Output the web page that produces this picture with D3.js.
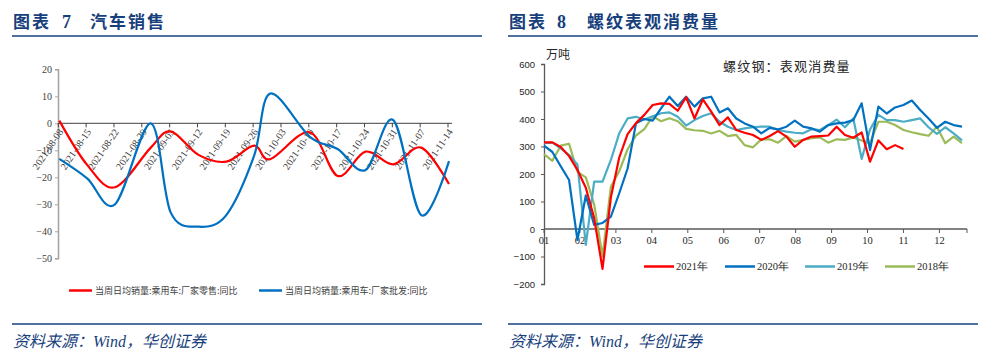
<!DOCTYPE html>
<html><head><meta charset="utf-8">
<script src="https://cdn.jsdelivr.net/npm/d3@7"></script>
<style>body{margin:0;background:#fff}svg{display:block}</style>
</head><body><svg id="c" width="990" height="358"></svg>
<script>
// ---------- Data: chart 7 (car sales) ----------
const carDates = ["2021-08-08","2021-08-15","2021-08-22","2021-08-31","2021-09-05","2021-09-12","2021-09-19","2021-09-26","2021-09-30","2021-10-10","2021-10-17","2021-10-24","2021-10-31","2021-11-07","2021-11-14"];
const retailYoY = [1,-15.4,-23.7,-9,-3,-11.7,-14.2,-8.3,-13.3,-3.3,-19.5,-10.5,-15.2,-9,-22.5];
const wholesaleYoY = [-13.2,-20.4,-30,0,-33,-38.3,-34,-12,11,-5,-9.5,-17.3,1.2,-34,-14];
const carYTicks = [20,10,0,-10,-20,-30,-40,-50];
const carSeriesNames = ["当周日均销量:乘用车:厂家零售:同比","当周日均销量:乘用车:厂家批发:同比"];

// ---------- Data: chart 8 (rebar apparent consumption, weekly) ----------
const rebar2021 = [315,315,298,265,215,150,40,-145,115,260,345,385,415,451,457,455,430,479,402,471,427,378,406,360,350,342,324,338,356,336,299,324,336,338,340,372,342,332,351,245,322,290,305,291];
const rebar2020 = [303,280,228,178,-40,122,15,22,45,130,220,384,400,394,439,481,447,481,445,475,481,424,439,402,384,372,348,368,362,372,394,372,366,354,378,384,387,396,457,287,445,420,442,451,467,433,402,368,390,378,372];
const rebar2019 = [312,314,293,269,235,-58,172,172,251,348,402,408,398,410,421,424,408,376,396,411,421,390,372,360,366,370,372,372,360,354,350,348,363,360,378,398,370,402,255,362,415,396,396,390,396,402,370,346,370,348,322];
const rebar2018 = [272,248,303,310,208,188,90,-100,154,210,290,340,363,410,392,403,392,364,359,357,347,357,338,342,305,297,326,326,314,338,318,324,330,333,314,326,324,333,322,312,390,390,378,360,352,345,339,372,312,336,312];
const monthLabels = ["01","02","03","04","05","06","07","08","09","10","11","12"];
const rebarYTicks = [600,500,400,300,200,100,0,-100,-200];
const rebarSeriesNames = ["2021年","2020年","2019年","2018年"];

// ---------- Styles ----------
const NAVY = "#173f7c";
const CJK = "'Noto Sans CJK SC','Noto Sans',sans-serif";
const SERIF = "'Liberation Serif','Times New Roman',serif";
const SANS = "'Liberation Sans',Arial,sans-serif";

const svg = d3.select("#c");
svg.append("rect").attr("width",990).attr("height",358).attr("fill","#fff");

// ---------- Headers / footers ----------
function header(x0, num, title, x1, x2, lineEnd) {
  const g = svg.append("g");
  g.append("text").attr("x",x0).attr("y",28).attr("font-family",CJK).attr("font-weight",700)
    .attr("font-size",17).attr("letter-spacing",2).attr("fill",NAVY).text("图表");
  g.append("text").attr("x",x1).attr("y",28).attr("font-family",SERIF).attr("font-weight",700)
    .attr("font-size",18).attr("fill",NAVY).text(num);
  g.append("text").attr("x",x2).attr("y",28).attr("font-family",CJK).attr("font-weight",700)
    .attr("font-size",17).attr("letter-spacing",2).attr("fill",NAVY).text(title);
  g.append("line").attr("x1",x0-1).attr("x2",lineEnd).attr("y1",36).attr("y2",36)
    .attr("stroke",NAVY).attr("stroke-width",1.6);
  g.append("line").attr("x1",x0-1).attr("x2",lineEnd).attr("y1",324).attr("y2",324)
    .attr("stroke",NAVY).attr("stroke-width",1.6);
  const t = g.append("text").attr("x",x0).attr("y",347).attr("font-size",16)
    .attr("font-style","italic").attr("fill",NAVY).attr("font-family",CJK);
  t.append("tspan").text("资料来源：");
  t.append("tspan").attr("font-family",SERIF).text("Wind");
  t.append("tspan").text("，华创证券");
}
header(13,"7","汽车销售",62,90,482);
header(509,"8","螺纹表观消费量",557,587,978);

// ---------- Chart 7 ----------
(function(){
  const parse = d3.timeParse("%Y-%m-%d");
  const dates = carDates.map(parse);
  const x = d3.scaleTime().domain([dates[0], dates[dates.length-1]]).range([59.3, 449]);
  const y = d3.scaleLinear().domain([-50, 20]).range([258.3, 69.3]);
  const g = svg.append("g");

  // y axis
  const ya = g.append("g").attr("transform","translate(58,0)")
    .call(d3.axisLeft(y).tickValues(carYTicks).tickSize(3).tickFormat(d3.format("d")));
  ya.select(".domain").attr("stroke","#a6a6a6").attr("stroke-width",1.6);
  ya.selectAll(".tick line").attr("stroke","#a6a6a6").attr("stroke-width",1);
  ya.selectAll(".tick text").attr("font-family",SERIF).attr("font-size",10).attr("fill","#404040").attr("x",-6);

  // zero axis
  const y0 = y(0);
  g.append("line").attr("x1",58).attr("x2",452).attr("y1",y0).attr("y2",y0).attr("stroke","#404040").attr("stroke-width",1);
  const tickDates = d3.timeWeek.range(dates[0], d3.timeDay.offset(dates[dates.length-1],1));
  const fmt = d3.timeFormat("%Y-%m-%d");
  g.selectAll(".xt").data(tickDates).join("line")
    .attr("x1",d=>x(d)-1).attr("x2",d=>x(d)-1).attr("y1",y0).attr("y2",y0+4)
    .attr("stroke","#404040").attr("stroke-width",1);
  g.selectAll(".xl").data(tickDates).join("text")
    .attr("transform",d=>`translate(${x(d)+1.5},${y0+6.5}) rotate(-56)`)
    .attr("text-anchor","end").attr("dy","0.35em")
    .attr("font-family",SERIF).attr("font-size",10).attr("fill","#404040")
    .text(d=>fmt(d));

  const line = d3.line().x((d,i)=>x(dates[i])).y(d=>y(d)).curve(d3.curveCatmullRom.alpha(0));
  g.append("path").attr("d",line(retailYoY)).attr("fill","none").attr("stroke","#ff0000").attr("stroke-width",2.2);
  g.append("path").attr("d",line(wholesaleYoY)).attr("fill","none").attr("stroke","#0070c0").attr("stroke-width",2.2);

  // legend
  const cols = ["#ff0000","#0070c0"];
  const lx = [69, 259];
  carSeriesNames.forEach((n,i)=>{
    g.append("line").attr("x1",lx[i]).attr("x2",lx[i]+23).attr("y1",290.5).attr("y2",290.5)
      .attr("stroke",cols[i]).attr("stroke-width",2.5);
    g.append("text").attr("x",lx[i]+26).attr("y",294).attr("font-family",CJK).attr("font-size",9)
      .attr("fill","#404040").text(n);
  });
})();

// ---------- Chart 8 ----------
(function(){
  const x = d3.scaleLinear().domain([0, 50.6]).range([544, 967]);
  const y = d3.scaleLinear().domain([-200, 600]).range([284, 64]);
  const weeksPerMonth = 4.3;
  const g = svg.append("g");

  const ya = g.append("g").attr("transform","translate(544,0)")
    .call(d3.axisLeft(y).tickValues(rebarYTicks).tickSize(3).tickFormat(d3.format("d")));
  ya.select(".domain").attr("stroke","#595959").attr("stroke-width",1.3);
  ya.selectAll(".tick line").attr("stroke","#595959");
  ya.selectAll(".tick text").attr("font-family",SANS).attr("font-size",9.5).attr("fill","#262626").attr("x",-9);

  const y0 = y(0);
  g.append("line").attr("x1",544).attr("x2",967).attr("y1",y0).attr("y2",y0).attr("stroke","#595959").attr("stroke-width",1.3);
  const tickPos = monthLabels.map((m,i)=>i*weeksPerMonth).concat([50.6]);
  g.selectAll(".mt").data(tickPos).join("line")
    .attr("x1",d=>x(d)).attr("x2",d=>x(d)).attr("y1",y0).attr("y2",y0+4)
    .attr("stroke","#595959").attr("stroke-width",1);
  g.selectAll(".ml").data(monthLabels).join("text")
    .attr("x",(d,i)=>x(i*weeksPerMonth)).attr("y",y0+15).attr("text-anchor","middle")
    .attr("font-family",SERIF).attr("font-size",10.5).attr("fill","#262626").text(d=>d);

  g.append("text").attr("x",546).attr("y",59).attr("font-family",CJK).attr("font-size",12).attr("fill","#262626").text("万吨");
  g.append("text").attr("x",723).attr("y",71).attr("font-family",CJK).attr("font-size",13)
    .attr("letter-spacing",1.2).attr("fill","#262626").text("螺纹钢：表观消费量");

  const series = [rebar2021, rebar2020, rebar2019, rebar2018];
  const cols = ["#ff0000","#0070c0","#4bacc6","#9bbb59"];
  const line = d3.line().x((d,i)=>x(i)).y(d=>y(d));
  [3,2,1,0].forEach(k=>{
    g.append("path").attr("d",line(series[k])).attr("fill","none").attr("stroke",cols[k])
      .attr("stroke-width",2.2).attr("stroke-linejoin","round");
  });

  const lx = [644,725,805,885];
  rebarSeriesNames.forEach((n,i)=>{
    g.append("line").attr("x1",lx[i]).attr("x2",lx[i]+30).attr("y1",266.5).attr("y2",266.5)
      .attr("stroke",cols[i]).attr("stroke-width",2.5);
    g.append("text").attr("x",lx[i]+32).attr("y",270).attr("font-family",SERIF).attr("font-size",10.5)
      .attr("fill","#262626").text(n);
  });
})();
</script></body></html>
